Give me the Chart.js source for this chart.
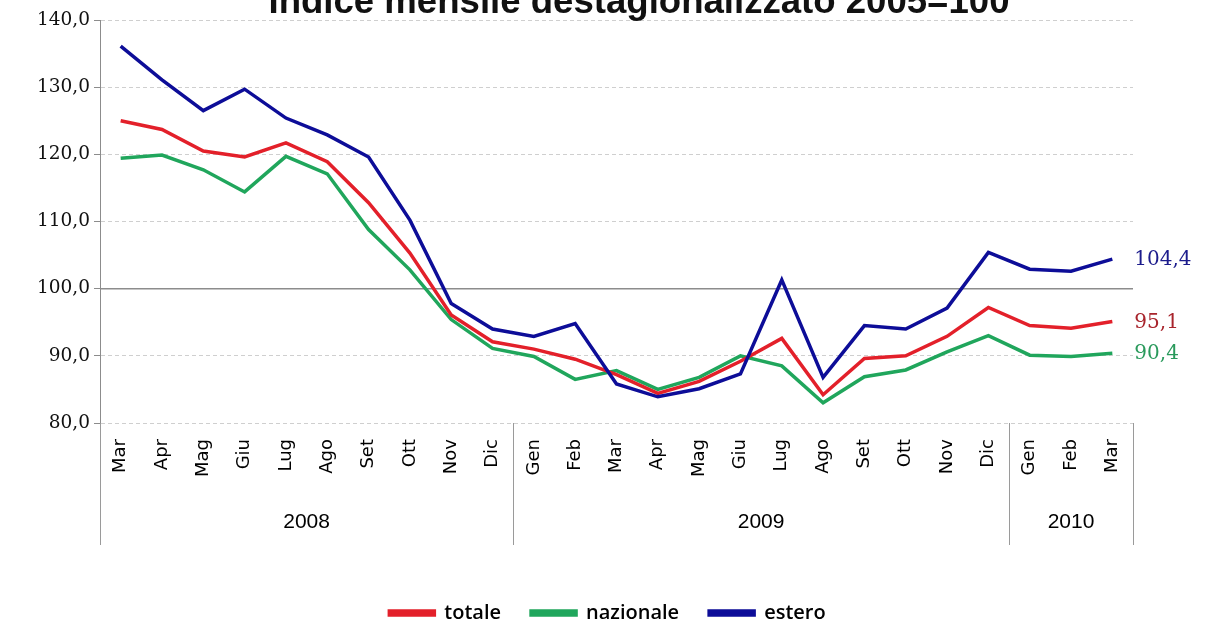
<!DOCTYPE html>
<html>
<head>
<meta charset="utf-8">
<script src="https://cdn.jsdelivr.net/npm/chart.js@4.4.1/dist/chart.umd.min.js"></script>
<style>
  html, body { margin: 0; padding: 0; background: #fff; }
  #wrap { width: 1211px; height: 629px; }
</style>
</head>
<body>
<div id="wrap"><canvas id="chart" width="1211" height="629"></canvas></div>
<script>
// dati: indice mensile destagionalizzato 2005=100
const months = ['Mar','Apr','Mag','Giu','Lug','Ago','Set','Ott','Nov','Dic',
                'Gen','Feb','Mar','Apr','Mag','Giu','Lug','Ago','Set','Ott','Nov','Dic',
                'Gen','Feb','Mar'];
const years = ['2008', '2009', '2010'];
const yearSpans = [10, 12, 3];

const totale = [125.0, 123.7, 120.5, 119.6, 121.7, 118.9, 112.8, 105.3, 96.1, 92.1,
                91.0, 89.5, 87.2, 84.4, 86.2, 89.2, 92.6, 84.2, 89.6, 90.0, 92.9, 97.2,
                94.5, 94.1, 95.1];
const nazionale = [119.4, 119.9, 117.7, 114.4, 119.7, 117.1, 108.8, 102.8, 95.4, 91.1,
                   89.9, 86.5, 87.8, 85.0, 86.8, 90.0, 88.5, 83.0, 86.9, 87.9, 90.6, 93.0,
                   90.1, 89.9, 90.4];
const estero = [136.1, 131.1, 126.5, 129.7, 125.4, 122.9, 119.6, 110.2, 97.8, 94.0,
                92.9, 94.8, 85.8, 83.9, 85.1, 87.3, 101.3, 86.8, 94.5, 94.0, 97.1, 105.4,
                102.9, 102.6, 104.4];

const yTicks = [80, 90, 100, 110, 120, 130, 140];

const fmt = v => v.toFixed(1).replace('.', ',');

// titolo (tagliato in alto come nell'originale)
const titlePlugin = {
  id: 'titolo',
  afterDraw(chart) {
    const ctx = chart.ctx;
    const text = 'Indice mensile destagionalizzato 2005=100';
    ctx.save();
    ctx.font = 'bold 32px "Liberation Sans"';
    const w = ctx.measureText(text).width;
    const size = 32 * 742 / w;
    ctx.font = 'bold ' + size.toFixed(1) + 'px "Liberation Sans"';
    ctx.fillStyle = '#111';
    ctx.textAlign = 'center';
    ctx.textBaseline = 'alphabetic';
    ctx.fillText(text, 639, 13);
    ctx.restore();
  }
};

// linea continua a quota 100
const line100 = {
  id: 'line100',
  beforeDatasetsDraw(chart) {
    const y = chart.scales.y.getPixelForValue(100);
    const a = chart.chartArea;
    const ctx = chart.ctx;
    ctx.save();
    ctx.strokeStyle = '#8c8c8c';
    ctx.lineWidth = 1.5;
    ctx.beginPath();
    ctx.moveTo(a.left, y);
    ctx.lineTo(a.right, y);
    ctx.stroke();
    ctx.restore();
  }
};

// secondo livello dell'asse: anni e separatori
const yearAxis = {
  id: 'yearAxis',
  afterDraw(chart) {
    const x = chart.scales.x;
    const a = chart.chartArea;
    const ctx = chart.ctx;
    const half = (x.getPixelForValue(1) - x.getPixelForValue(0)) / 2;
    ctx.save();
    ctx.strokeStyle = '#9a9a9a';
    ctx.lineWidth = 1;
    ctx.fillStyle = '#000';
    ctx.font = '21px "Liberation Sans"';
    ctx.textAlign = 'center';
    ctx.textBaseline = 'middle';
    let start = 0;
    const edges = [x.getPixelForValue(0) - half];
    years.forEach((yr, i) => {
      const end = start + yearSpans[i] - 1;
      const cx = (x.getPixelForValue(start) + x.getPixelForValue(end)) / 2;
      ctx.fillText(yr, cx, a.bottom + 99);
      edges.push(x.getPixelForValue(end) + half);
      start = end + 1;
    });
    edges.forEach(ex => {
      const px = Math.round(ex) + 0.5;
      ctx.beginPath();
      ctx.moveTo(px, a.bottom);
      ctx.lineTo(px, a.bottom + 122);
      ctx.stroke();
    });
    ctx.restore();
  }
};

// etichette dell'ultimo valore
const endLabels = {
  id: 'endLabels',
  afterDatasetsDraw(chart) {
    const ctx = chart.ctx;
    ctx.save();
    ctx.font = '20px "DejaVu Serif"';
    ctx.textAlign = 'left';
    ctx.textBaseline = 'middle';
    chart.data.datasets.forEach((ds, i) => {
      const meta = chart.getDatasetMeta(i);
      const pt = meta.data[meta.data.length - 1];
      ctx.fillStyle = ds.labelColor;
      ctx.fillText(fmt(ds.data[ds.data.length - 1]), pt.x + 22, pt.y + 1);
    });
    ctx.restore();
  }
};

new Chart(document.getElementById('chart'), {
  type: 'line',
  data: {
    labels: months,
    datasets: [
      { label: 'totale', data: totale, borderColor: '#e3202a', backgroundColor: '#e3202a',
        labelColor: '#a8242c', order: 1 },
      { label: 'nazionale', data: nazionale, borderColor: '#20a65c', backgroundColor: '#20a65c',
        labelColor: '#2a9a5c', order: 2 },
      { label: 'estero', data: estero, borderColor: '#0d0d98', backgroundColor: '#0d0d98',
        labelColor: '#1c1c8c', order: 0 }
    ]
  },
  options: {
    responsive: false,
    animation: false,
    devicePixelRatio: 1,
    layout: { padding: { top: 20, right: 0, left: 4, bottom: -4 } },
    elements: {
      line: { borderWidth: 3.5, tension: 0 },
      point: { radius: 0 }
    },
    scales: {
      x: {
        offset: true,
        grid: { display: false },
        border: { display: false },
        ticks: {
          autoSkip: false,
          minRotation: 90,
          maxRotation: 90,
          padding: 8,
          color: '#000',
          font: { family: '"DejaVu Sans"', size: 18 }
        },
        afterFit(scale) { scale.height = 150; }
      },
      y: {
        min: 80,
        max: 140,
        afterBuildTicks(scale) { scale.ticks = yTicks.map(v => ({ value: v })); },
        grid: { color: '#cfcfcf', tickColor: '#8c8c8c', tickLength: 6, lineWidth: 1 },
        border: { display: true, color: '#8c8c8c', width: 1, dash: [4, 3] },
        ticks: {
          padding: 4,
          color: '#111',
          font: { family: '"DejaVu Serif"', size: 18.5 },
          callback: v => fmt(v)
        },
        afterFit(scale) { scale.width = 96; }
      },
      // spazio vuoto a destra per le etichette finali
      margine: {
        position: 'right',
        grid: { display: false },
        border: { display: false },
        ticks: { display: false },
        afterFit(scale) { scale.width = 78; }
      }
    },
    plugins: {
      title: { display: false },
      tooltip: { enabled: false },
      legend: {
        position: 'bottom',
        labels: {
          sort: (a, b) => a.datasetIndex - b.datasetIndex,
          boxWidth: 45,
          boxHeight: 4,
          padding: 30,
          color: '#000',
          font: { family: '"Open Sans"', size: 20, weight: '600' }
        }
      }
    }
  },
  plugins: [titlePlugin, line100, yearAxis, endLabels]
});
</script>
</body>
</html>
